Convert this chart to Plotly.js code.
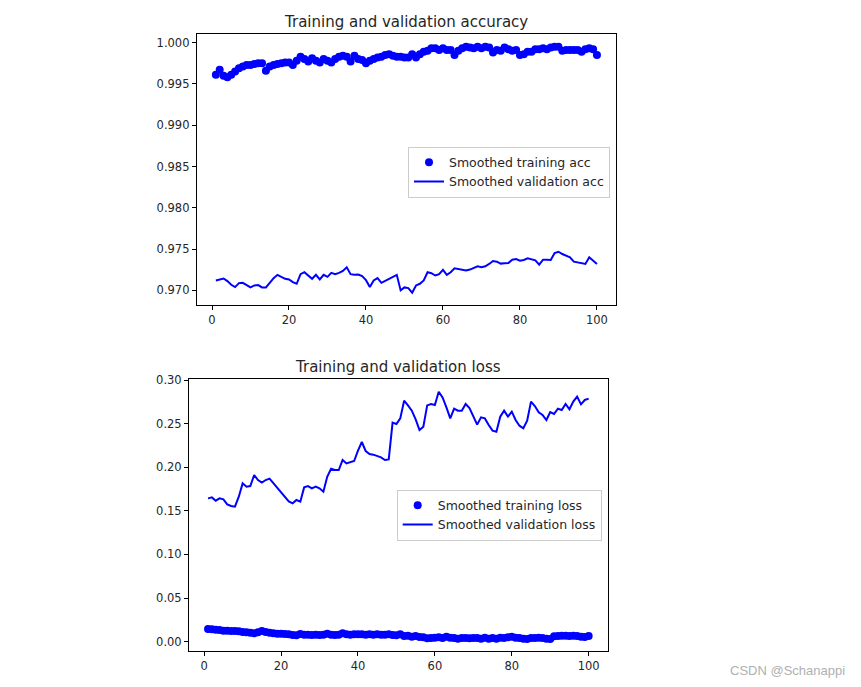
<!DOCTYPE html>
<html>
<head>
<meta charset="utf-8">
<script src="https://cdn.plot.ly/plotly-3.0.1.min.js"></script>
<style>html,body{margin:0;padding:0;background:#fff;}#chart{width:861px;height:687px;}</style>
</head>
<body>
<div id="chart"></div>
<script>
const epochs = Array.from({length: 100}, (_, i) => i + 1);

const trainAcc = [
0.9961,0.9967,0.9960,0.9958,0.9961,0.9965,0.9969,0.9971,0.9973,0.9973,
0.9974,0.9975,0.9975,0.9966,0.9971,0.9973,0.9974,0.9975,0.9976,0.9976,
0.9973,0.9978,0.9983,0.9980,0.9977,0.9981,0.9978,0.9976,0.9980,0.9978,
0.9976,0.9980,0.9983,0.9984,0.9983,0.9977,0.9984,0.9980,0.9979,0.9975,
0.9978,0.9980,0.9982,0.9983,0.9985,0.9986,0.9984,0.9983,0.9983,0.9982,
0.9982,0.9986,0.9982,0.9986,0.9989,0.9990,0.9993,0.9993,0.9991,0.9993,
0.9991,0.9991,0.9985,0.9990,0.9993,0.9995,0.9994,0.9993,0.9995,0.9993,
0.9995,0.9994,0.9988,0.9991,0.9990,0.9994,0.9992,0.9990,0.9991,0.9985,
0.9986,0.9989,0.9989,0.9992,0.9992,0.9993,0.9992,0.9994,0.9995,0.9995,
0.9990,0.9991,0.9991,0.9991,0.9991,0.9989,0.9992,0.9993,0.9992,0.9985];

const valAcc = [
0.97120,0.97132,0.97144,0.97112,0.97068,0.97040,0.97088,0.97092,0.97060,0.97036,
0.97060,0.97064,0.97036,0.97036,0.97092,0.97148,0.97188,0.97160,0.97140,0.97132,
0.97100,0.97080,0.97196,0.97220,0.97180,0.97140,0.97188,0.97132,0.97188,0.97164,
0.97212,0.97196,0.97212,0.97236,0.97280,0.97196,0.97188,0.97192,0.97172,0.97124,
0.97040,0.97120,0.97148,0.97092,0.97116,0.97140,0.97160,0.97188,0.97000,0.97036,
0.97028,0.96972,0.97060,0.97080,0.97120,0.97220,0.97208,0.97180,0.97196,0.97248,
0.97188,0.97220,0.97268,0.97260,0.97252,0.97240,0.97252,0.97268,0.97292,0.97280,
0.97292,0.97320,0.97356,0.97348,0.97324,0.97328,0.97332,0.97372,0.97380,0.97360,
0.97368,0.97388,0.97380,0.97364,0.97312,0.97372,0.97372,0.97368,0.97452,0.97468,
0.97440,0.97420,0.97400,0.97348,0.97340,0.97332,0.97320,0.97400,0.97356,0.97320];

const trainLoss = [
0.0145,0.0141,0.0138,0.0134,0.0126,0.0126,0.0122,0.0122,0.0119,0.0111,
0.0107,0.0103,0.0096,0.0107,0.0122,0.0111,0.0103,0.0096,0.0092,0.0092,
0.0088,0.0084,0.0076,0.0073,0.0088,0.0080,0.0080,0.0076,0.0080,0.0076,
0.0080,0.0092,0.0080,0.0076,0.0080,0.0096,0.0084,0.0080,0.0084,0.0084,
0.0084,0.0080,0.0084,0.0080,0.0084,0.0080,0.0080,0.0084,0.0076,0.0073,
0.0084,0.0065,0.0069,0.0057,0.0065,0.0054,0.0050,0.0038,0.0042,0.0046,
0.0050,0.0042,0.0057,0.0046,0.0042,0.0034,0.0042,0.0042,0.0038,0.0042,
0.0042,0.0034,0.0046,0.0034,0.0042,0.0034,0.0046,0.0042,0.0050,0.0057,
0.0046,0.0042,0.0034,0.0031,0.0042,0.0042,0.0046,0.0042,0.0034,0.0031,
0.0061,0.0065,0.0069,0.0069,0.0065,0.0069,0.0065,0.0057,0.0054,0.0065];

const valLoss = [
0.1643,0.1654,0.1616,0.1643,0.1631,0.1574,0.1555,0.1547,0.1662,0.1815,
0.1777,0.1784,0.1911,0.1853,0.1823,0.1853,0.1869,0.1815,0.1758,0.1712,
0.1662,0.1609,0.1586,0.1624,0.1605,0.1769,0.1784,0.1758,0.1777,0.1758,
0.1719,0.1891,0.1983,0.1968,0.1968,0.2083,0.2044,0.2056,0.2071,0.2190,
0.2289,0.2186,0.2151,0.2144,0.2128,0.2113,0.2083,0.2090,0.2511,0.2495,
0.2560,0.2763,0.2709,0.2648,0.2549,0.2427,0.2465,0.2709,0.2725,0.2713,
0.2866,0.2801,0.2687,0.2560,0.2671,0.2648,0.2648,0.2725,0.2679,0.2587,
0.2488,0.2572,0.2560,0.2484,0.2419,0.2407,0.2580,0.2648,0.2580,0.2637,
0.2541,0.2476,0.2446,0.2534,0.2752,0.2702,0.2629,0.2599,0.2541,0.2633,
0.2610,0.2671,0.2656,0.2725,0.2664,0.2752,0.2809,0.2721,0.2771,0.2786];

const xTicks = [0, 20, 40, 60, 80, 100];
const accTicks = [0.970, 0.975, 0.980, 0.985, 0.990, 0.995, 1.000];
const accTickText = ['0.970','0.975','0.980','0.985','0.990','0.995','1.000'];
const lossTicks = [0.00, 0.05, 0.10, 0.15, 0.20, 0.25, 0.30];
const lossTickText = ['0.00','0.05','0.10','0.15','0.20','0.25','0.30'];

const FONT = 'DejaVu Sans, sans-serif';
const tickFont = {family: FONT, size: 11.5, color: '#262626'};

const traces = [
  {x: epochs, y: trainAcc, type: 'scatter', mode: 'markers', name: 'Smoothed training acc',
   marker: {color: '#0000ff', size: 8}, xaxis: 'x', yaxis: 'y', legend: 'legend'},
  {x: epochs, y: valAcc, type: 'scatter', mode: 'lines', name: 'Smoothed validation acc',
   line: {color: '#0000ff', width: 2}, xaxis: 'x', yaxis: 'y', legend: 'legend'},
  {x: epochs, y: trainLoss, type: 'scatter', mode: 'markers', name: 'Smoothed training loss',
   marker: {color: '#0000ff', size: 8}, xaxis: 'x2', yaxis: 'y2', legend: 'legend2'},
  {x: epochs, y: valLoss, type: 'scatter', mode: 'lines', name: 'Smoothed validation loss',
   line: {color: '#0000ff', width: 2}, xaxis: 'x2', yaxis: 'y2', legend: 'legend2'}
];

const axisCommon = {
  showgrid: false, zeroline: false, showline: true, mirror: true,
  linecolor: '#000', linewidth: 1, ticks: 'outside', ticklen: 4, tickwidth: 1,
  tickcolor: '#000', tickfont: tickFont
};

const W = 861, H = 687;
const legendCommon = {
  bgcolor: 'rgba(255,255,255,0.8)', bordercolor: '#cccccc', borderwidth: 1,
  font: {family: FONT, size: 12.5, color: '#262626'}, xanchor: 'right', yanchor: 'top',
  tracegroupgap: 0
};

const layout = {
  width: W, height: H,
  margin: {l: 0, r: 0, t: 0, b: 0},
  paper_bgcolor: '#fff', plot_bgcolor: '#fff',
  showlegend: true,
  xaxis: Object.assign({}, axisCommon, {domain: [196.8/W, 616/W], range: [-3.95, 104.95],
    tickvals: xTicks, anchor: 'y'}),
  yaxis: Object.assign({}, axisCommon, {domain: [1 - 305/H, 1 - 34/H], range: [0.96823, 1.00104],
    tickvals: accTicks, ticktext: accTickText, anchor: 'x'}),
  xaxis2: Object.assign({}, axisCommon, {domain: [189/W, 607.7/W], range: [-3.95, 104.95],
    tickvals: xTicks, anchor: 'y2'}),
  yaxis2: Object.assign({}, axisCommon, {domain: [1 - 651/H, 1 - 379.3/H], range: [-0.0107, 0.3008],
    tickvals: lossTicks, ticktext: lossTickText, anchor: 'x2'}),
  legend: Object.assign({}, legendCommon, {x: 610/W, y: 1 - 146.5/H}),
  legend2: Object.assign({}, legendCommon, {x: 601.7/W, y: 1 - 489.5/H}),
  annotations: [
    {text: 'Training and validation accuracy', xref: 'paper', yref: 'paper',
     x: 405.5/W, y: 1 - 22/H, xanchor: 'center', yanchor: 'middle', showarrow: false,
     font: {family: FONT, size: 15, color: '#262626'}},
    {text: 'Training and validation loss', xref: 'paper', yref: 'paper',
     x: 397.5/W, y: 1 - 367/H, xanchor: 'center', yanchor: 'middle', showarrow: false,
     font: {family: FONT, size: 15, color: '#262626'}},
    {text: 'CSDN @Schanappi', xref: 'paper', yref: 'paper',
     x: 847/W, y: 1 - 670/H, xanchor: 'right', yanchor: 'middle', showarrow: false,
     font: {family: 'Liberation Sans, Arial, sans-serif', size: 13, color: '#b0b0b0'}}
  ]
};

Plotly.newPlot('chart', traces, layout, {displayModeBar: false, staticPlot: true});
</script>
</body>
</html>
